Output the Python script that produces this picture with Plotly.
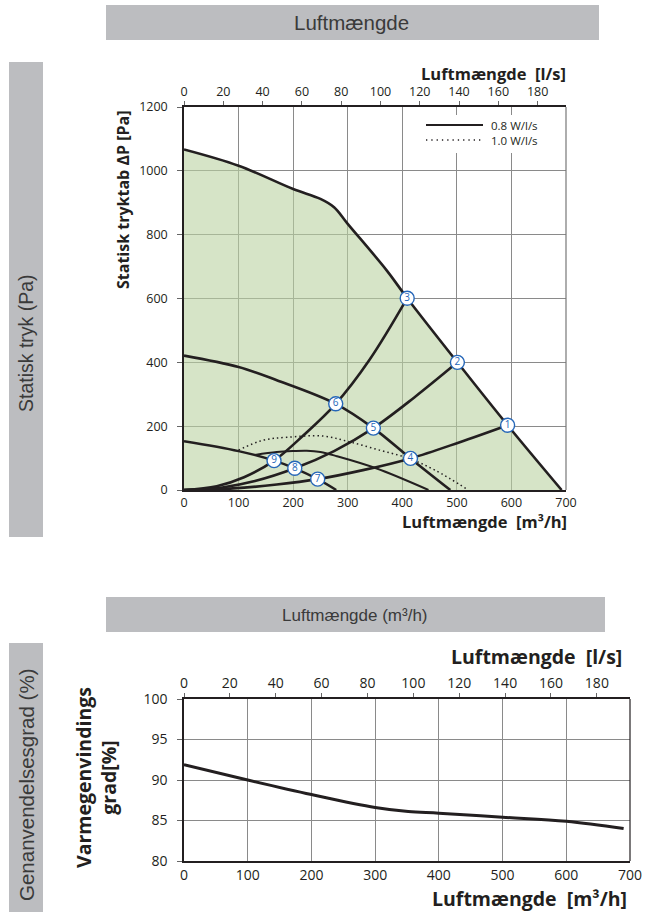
import plotly.graph_objects as go

# ---------------- data ----------------
# Upper chart: static pressure vs air flow (m3/h)
flow_max = [0, 100, 200, 250, 275, 300, 371, 409, 501, 593, 692]
dp_max = [1067, 1016, 943, 912, 886, 834, 689, 601, 400, 203, 0]

flow_mid = [0, 100, 170, 278, 347, 415, 488]
dp_mid = [421, 385, 344, 270, 194, 99, 0]

flow_low = [0, 100, 165, 203, 245, 279]
dp_low = [153, 122, 92, 68, 34, 0]

flow_sysA = [0, 60, 110, 165, 218, 278, 340, 409]
dp_sysA = [0, 12, 40, 92, 170, 270, 408, 601]

flow_sysB = [0, 70, 130, 203, 275, 347, 422, 501]
dp_sysB = [0, 8, 28, 68, 122, 194, 290, 400]

flow_sysC = [0, 90, 170, 245, 330, 415, 504, 593]
dp_sysC = [0, 5, 17, 34, 63, 99, 149, 203]

flow_sfp08 = [130, 170, 200, 225, 250, 280, 352, 448]
dp_sfp08 = [110, 119, 122, 123, 119, 106, 68, 0]

flow_sfp10 = [100, 145, 188, 255, 303, 358, 412, 460, 521]
dp_sfp10 = [125, 156, 165, 169, 151, 125, 99, 62, 0]

point_flow = [593, 501, 409, 415, 347, 278, 245, 203, 165]
point_dp = [203, 400, 601, 99, 194, 270, 34, 68, 92]
point_labels = ["1", "2", "3", "4", "5", "6", "7", "8", "9"]

legend_labels = ["0.8 W/l/s", "1.0 W/l/s"]

# Lower chart: heat recovery efficiency
flow_eff = [0, 100, 200, 300, 352, 400, 500, 600, 690]
eff = [91.9, 90.0, 88.2, 86.6, 86.1, 85.9, 85.4, 84.9, 84.0]

m3h_ticks = [0, 100, 200, 300, 400, 500, 600, 700]
ls_ticks = [0, 20, 40, 60, 80, 100, 120, 140, 160, 180]
dp_ticks = [0, 200, 400, 600, 800, 1000, 1200]
eff_ticks = [80, 85, 90, 95, 100]
M3H_PER_LS = 3.6

# ---------------- styling ----------------
W, H = 651, 912
BLACK = "#231f20"
GRID = "#8a8a8a"
BLUE = "#2566b8"
GREEN = "rgba(187,210,162,0.6)"
BAND = "#bcbdc0"
FONT = "Open Sans"
BAND_FONT = "Liberation Sans"


def px(x):
    return x / W


def py(y):
    return 1 - y / H


fig = go.Figure()

# green operating area
fig.add_trace(go.Scatter(x=flow_max, y=dp_max, mode="lines", fill="tozeroy",
                         fillcolor=GREEN,
                         line=dict(color=BLACK, width=2.6, shape="spline"),
                         showlegend=False, hoverinfo="skip"))

for fx, fy, wd in [(flow_mid, dp_mid, 2.6), (flow_low, dp_low, 2.4),
                   (flow_sysA, dp_sysA, 2.6), (flow_sysB, dp_sysB, 2.6),
                   (flow_sysC, dp_sysC, 2.6)]:
    fig.add_trace(go.Scatter(x=fx, y=fy, mode="lines",
                             line=dict(color=BLACK, width=wd, shape="spline"),
                             showlegend=False, hoverinfo="skip"))

fig.add_trace(go.Scatter(x=flow_sfp08, y=dp_sfp08, mode="lines", name=legend_labels[0],
                         line=dict(color=BLACK, width=2.0, shape="spline"),
                         showlegend=False, hoverinfo="skip"))
fig.add_trace(go.Scatter(x=flow_sfp10, y=dp_sfp10, mode="lines", name=legend_labels[1],
                         line=dict(color=BLACK, width=1.5, shape="spline",
                                   dash="1.5px,3px"),
                         showlegend=False, hoverinfo="skip"))

fig.add_trace(go.Scatter(x=point_flow, y=point_dp, mode="markers+text",
                         text=point_labels, textposition="middle center",
                         textfont=dict(color=BLUE, size=10, family=FONT),
                         marker=dict(size=14, color="white",
                                     line=dict(color=BLUE, width=1.4)),
                         showlegend=False, hoverinfo="skip"))

# invisible trace to carry the l/s top axis of upper chart
fig.add_trace(go.Scatter(x=[v / M3H_PER_LS for v in flow_max], y=dp_max,
                         xaxis="x2", yaxis="y", mode="lines", opacity=0,
                         line=dict(width=0), showlegend=False, hoverinfo="skip"))

# lower chart
fig.add_trace(go.Scatter(x=flow_eff, y=eff, xaxis="x3", yaxis="y2", mode="lines",
                         line=dict(color=BLACK, width=3, shape="spline"),
                         showlegend=False, hoverinfo="skip"))
fig.add_trace(go.Scatter(x=[v / M3H_PER_LS for v in flow_eff], y=eff,
                         xaxis="x4", yaxis="y2", mode="lines", opacity=0,
                         line=dict(width=0), showlegend=False, hoverinfo="skip"))

tickfont = dict(family=FONT, size=12.5, color=BLACK)
tickfont2 = dict(family=FONT, size=14, color=BLACK)

common = dict(automargin=False, zeroline=False, fixedrange=True)

fig.update_layout(
    width=W, height=H, autosize=False,
    margin=dict(l=0, r=0, t=0, b=0, pad=0, autoexpand=False),
    paper_bgcolor="white", plot_bgcolor="white",
    showlegend=False,
    xaxis=dict(domain=[px(184), px(566)], anchor="y", range=[0, 700],
               tickvals=m3h_ticks, showgrid=True, gridcolor=GRID, gridwidth=1,
               showline=True, linecolor=BLACK, linewidth=1.5, ticks="",
               tickfont=tickfont, **common),
    xaxis2=dict(overlaying="x", side="top", anchor="y", range=[0, 700 / M3H_PER_LS],
                tickvals=ls_ticks, showgrid=False, showline=True, linecolor=BLACK,
                linewidth=1.5, ticks="outside", ticklen=4, tickcolor="#666",
                tickfont=tickfont, **common),
    yaxis=dict(domain=[py(490), py(107)], anchor="x", range=[0, 1200],
               tickvals=dp_ticks, showgrid=True, gridcolor=GRID, gridwidth=1,
               showline=True, linecolor=BLACK, linewidth=1.5, ticks="outside",
               ticklen=5, tickcolor="#666", tickfont=tickfont,
               ticklabelstandoff=7, **common),
    xaxis3=dict(domain=[px(184), px(630)], anchor="y2", range=[0, 700],
                tickvals=m3h_ticks, showgrid=True, gridcolor=GRID, gridwidth=1,
                showline=True, linecolor=BLACK, linewidth=1.5, ticks="",
                tickfont=tickfont2, **common),
    xaxis4=dict(overlaying="x3", side="top", anchor="y2", range=[0, 700 / M3H_PER_LS],
                tickvals=ls_ticks, showgrid=False, showline=True, linecolor=BLACK,
                linewidth=1.5, ticks="outside", ticklen=4, tickcolor="#666",
                tickfont=tickfont2, **common),
    yaxis2=dict(domain=[py(861), py(699)], anchor="x3", range=[80, 100],
                tickvals=eff_ticks, showgrid=True, gridcolor=GRID, gridwidth=1,
                showline=True, linecolor=BLACK, linewidth=1.5, ticks="outside",
                ticklen=5, tickcolor="#666", tickfont=tickfont2,
                ticklabelstandoff=7, **common),
)

shapes = [
    dict(type="rect", xref="paper", yref="paper", x0=px(106), x1=px(599),
         y0=py(40), y1=py(5), fillcolor=BAND, line=dict(width=0), layer="below"),
    dict(type="rect", xref="paper", yref="paper", x0=px(9), x1=px(43),
         y0=py(537), y1=py(62), fillcolor=BAND, line=dict(width=0), layer="below"),
    dict(type="rect", xref="paper", yref="paper", x0=px(106), x1=px(605),
         y0=py(632), y1=py(597), fillcolor=BAND, line=dict(width=0), layer="below"),
    dict(type="rect", xref="paper", yref="paper", x0=px(9), x1=px(43),
         y0=py(912), y1=py(643), fillcolor=BAND, line=dict(width=0), layer="below"),
    dict(type="line", xref="x domain", yref="y domain", x0=1, x1=1, y0=0, y1=1,
         line=dict(color="#777", width=1.2)),
    dict(type="line", xref="x3 domain", yref="y2 domain", x0=1, x1=1, y0=0, y1=1,
         line=dict(color=BLACK, width=1.2)),
    # legend box and samples
    dict(type="rect", xref="paper", yref="paper", x0=px(418), x1=px(558),
         y0=py(153), y1=py(115), fillcolor="white", line=dict(width=0), layer="above"),
    dict(type="line", xref="paper", yref="paper", x0=px(426), x1=px(483),
         y0=py(125), y1=py(125), line=dict(color=BLACK, width=2), layer="above"),
    dict(type="line", xref="paper", yref="paper", x0=px(426), x1=px(483),
         y0=py(140), y1=py(140), line=dict(color=BLACK, width=1.3, dash="1.3px,4px"),
         layer="above"),
]
fig.update_layout(shapes=shapes)

band_font_big = dict(family=BAND_FONT, size=20.5, color="#3a3a3a")
band_font_side = dict(family=BAND_FONT, size=19.5, color="#3a3a3a")
band_font = dict(family=BAND_FONT, size=17, color="#3a3a3a")
bold_top = dict(family=FONT, size=16.5, color=BLACK, weight="bold")
bold_ylab = dict(family=FONT, size=16, color=BLACK, weight="bold")
bold_bot = dict(family=FONT, size=19.5, color=BLACK, weight="bold")
leg_font = dict(family=FONT, size=11.5, color=BLACK)

ann = [
    dict(text="Luftmængde", x=px(351), y=py(22), font=band_font_big),
    dict(text="Statisk tryk (Pa)", x=px(26), y=py(343), textangle=-90, font=band_font_side),
    dict(text="Luftmængde (m³/h)", x=px(355), y=py(615), font=band_font),
    dict(text="Genanvendelsesgrad (%)", x=px(26), y=py(785), textangle=-90,
         font=band_font_big),
    dict(text="Luftmængde  [l/s]", x=px(568), y=py(73), xanchor="right", font=bold_top),
    dict(text="Statisk tryktab ΔP [Pa]", x=px(123), y=py(200), textangle=-90,
         font=bold_ylab),
    dict(text="Luftmængde  [m³/h]", x=px(569), y=py(521), xanchor="right", font=bold_top),
    dict(text="Luftmængde  [l/s]", x=px(624), y=py(656), xanchor="right", font=bold_bot),
    dict(text="Varmegenvindings<br>grad[%]", x=px(96), y=py(778), textangle=-90,
         font=bold_bot),
    dict(text="Luftmængde  [m³/h]", x=px(629), y=py(898), xanchor="right", font=bold_bot),
    dict(text="<br>".join(legend_labels), x=px(489), y=py(132.5), xanchor="left",
         align="left", font=leg_font),
]
for a in ann:
    a.setdefault("xref", "paper")
    a.setdefault("yref", "paper")
    a.setdefault("showarrow", False)
    a.setdefault("xanchor", "center")
    a.setdefault("yanchor", "middle")
fig.update_layout(annotations=ann)

fig.write_html("out.html",
               config={"displayModeBar": False},
               post_script="document.body.style.margin='0';"
                           "document.body.style.overflow='hidden';")
